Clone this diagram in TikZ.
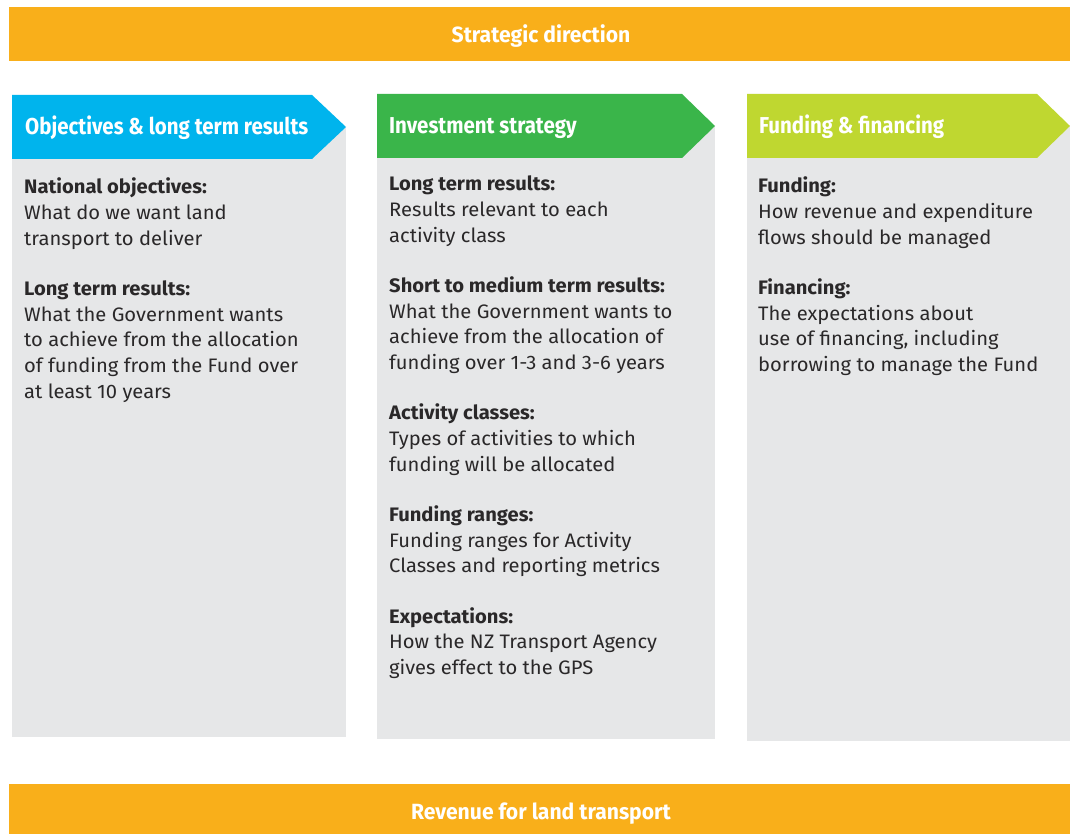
\documentclass[tikz,border=0pt]{standalone}
\usepackage{fontspec}
\setmainfont{Fira Sans}
\newfontfamily\bodyfont[FakeStretch=1.035]{Fira Sans}
\newfontfamily\headfont[FakeStretch=0.89]{Fira Sans}
\newfontfamily\barfont[FakeStretch=0.96]{Fira Sans}
\definecolor{barorange}{HTML}{F9AF1A}
\definecolor{hblue}{HTML}{00B4ED}
\definecolor{hgreen}{HTML}{3AB54A}
\definecolor{hlime}{HTML}{BFD730}
\definecolor{panelgrey}{HTML}{E6E7E8}
\definecolor{txt}{HTML}{2A2829}
\newcommand{\colblock}[1]{\vtop{\hsize=340pt\parindent=0pt\baselineskip=25.7pt\raggedright #1\par}}
\begin{document}
\begin{tikzpicture}[x=1pt,y=-1pt,
  bar/.style={fill=barorange,draw=none},
  panel/.style={fill=panelgrey,draw=none},
  bartext/.style={inner sep=0pt,anchor=base,text=white,font=\barfont\bfseries\fontsize{22}{24}\selectfont},
  headtext/.style={inner sep=0pt,anchor=base west,text=white,font=\headfont\bfseries\fontsize{23}{26}\selectfont},
  body/.style={inner sep=0pt,anchor=base west,text=txt,font=\bodyfont\fontsize{19.5}{25.7}\selectfont}]
\useasboundingbox (0,0) rectangle (1070,834);
\fill[white] (0,0) rectangle (1070,834);
% bars
\fill[bar] (9,7) rectangle (1070,61);
\node[bartext] (top) at (541,43) {Strategic direction};
\fill[bar] (9,784) rectangle (1070,834);
\node[bartext] (bottom) at (541,819) {Revenue for land transport};
% panels
\fill[panel] (12,127) rectangle (346,737);
\fill[panel] (377,126) rectangle (715,739);
\fill[panel] (747,126) rectangle (1070,741);
% headers
\fill[hblue] (12,95) -- (312,95) -- (346,127) -- (312,159) -- (12,159) -- cycle;
\fill[hgreen] (377,94) -- (682,94) -- (715,126) -- (682,158) -- (377,158) -- cycle;
\fill[hlime] (747,94) -- (1037,94) -- (1070,126) -- (1037,158) -- (747,158) -- cycle;
\node[headtext] (h1) at (25,135) {Objectives \& long term results};
\node[headtext] (h2) at (389,134) {Investment strategy};
\node[headtext] (h3) at (759,134) {Funding \& financing};
% body
\node[body] (b1) at (24,194) {\colblock{\textbf{National objectives:}\\What do we want land\\transport to deliver\\[24.5pt]
\textbf{Long term results:}\\What the Government wants\\to achieve from the allocation\\of funding from the Fund over\\at least 10 years}};
\node[body] (b2) at (389,191) {\colblock{\textbf{Long term results:}\\Results relevant to each\\activity class\\[24.5pt]
\textbf{Short to medium term results:}\\What the Government wants to\\achieve from the allocation of\\funding over 1-3 and 3-6 years\\[24.5pt]
\textbf{Activity classes:}\\Types of activities to which\\funding will be allocated\\[24.5pt]
\textbf{Funding ranges:}\\Funding ranges for Activity\\Classes and reporting metrics\\[24.5pt]
\textbf{Expectations:}\\How the NZ Transport Agency\\gives effect to the GPS}};
\node[body] (b3) at (758,193) {\colblock{\textbf{Funding:}\\How revenue and expenditure\\flows should be managed\\[24.5pt]
\textbf{Financing:}\\The expectations about\\use of financing, including\\borrowing to manage the Fund}};
\end{tikzpicture}
\end{document}
